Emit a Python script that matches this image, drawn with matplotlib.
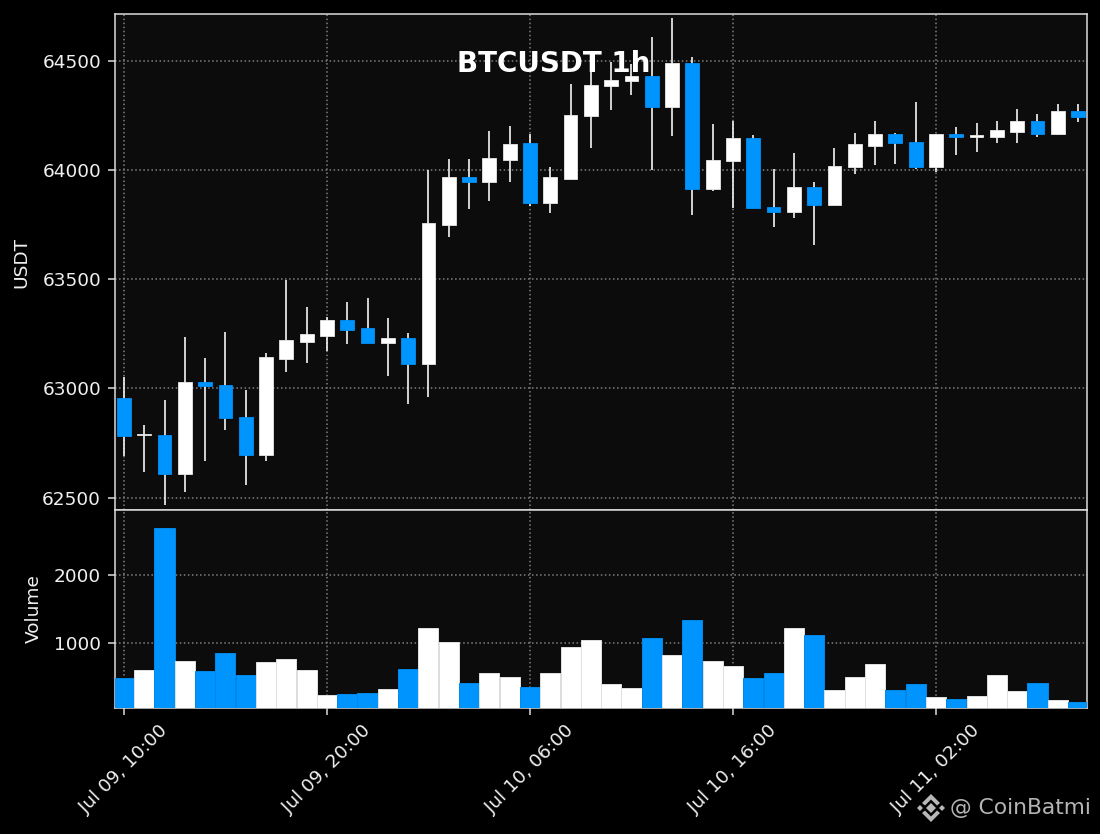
import matplotlib
matplotlib.use("Agg")
import matplotlib.pyplot as plt
from matplotlib.patches import Polygon

title = "BTCUSDT 1h"
tick_labels = ["Jul 09, 10:00", "Jul 09, 20:00", "Jul 10, 06:00", "Jul 10, 16:00", "Jul 11, 02:00"]
tick_index = [0, 10, 20, 30, 40]

opens = [62956, 62785, 62788, 62609, 63029, 63015, 62870, 62695, 63136, 63214, 63241, 63311,
         63274, 63209, 63229, 63109, 63749, 63966, 63946, 64047, 64122, 63850, 63960, 64245,
         64382, 64405, 64430, 64286, 64489, 63914, 64038, 64145, 63829, 63809, 63921, 63837,
         64011, 64111, 64163, 64127, 64011, 64163, 64151, 64148, 64175, 64223, 64162, 64269]
closes = [62782, 62790, 62609, 63029, 63011, 62864, 62695, 63142, 63220, 63247, 63311, 63268,
          63209, 63229, 63109, 63755, 63966, 63946, 64054, 64118, 63850, 63966, 64251, 64388,
          64411, 64430, 64286, 64489, 63914, 64044, 64145, 63823, 63809, 63921, 63837, 64017,
          64118, 64163, 64121, 64011, 64163, 64148, 64157, 64182, 64223, 64162, 64269, 64240]
highs = [63053, 62830, 62948, 63235, 63139, 63258, 62994, 63162, 63494, 63371, 63326, 63394,
         63412, 63321, 63253, 64000, 64050, 64050, 64177, 64200, 64165, 64014, 64394, 64490,
         64495, 64482, 64609, 64696, 64517, 64209, 64222, 64160, 64003, 64076, 63944, 64099,
         64169, 64223, 64169, 64310, 64163, 64197, 64215, 64223, 64279, 64256, 64302, 64302]
lows = [62689, 62617, 62467, 62526, 62667, 62808, 62558, 62667, 63076, 63117, 63171, 63203,
        63209, 63058, 62926, 62958, 63693, 63821, 63859, 63945, 63836, 63804, 63960, 64102,
        64275, 64344, 64000, 64156, 63795, 63901, 63824, 63823, 63736, 63780, 63658, 63837,
        63983, 64024, 64027, 64005, 63989, 64069, 64082, 64124, 64124, 64151, 64157, 64220]
volumes = [495, 608, 2690, 740, 593, 858, 535, 726, 770, 608, 240, 255,
           270, 329, 623, 1226, 1020, 417, 564, 505, 358, 564, 946, 1049,
           402, 343, 1079, 829, 1343, 740, 667, 490, 564, 1226, 1123, 314,
           505, 696, 314, 402, 211, 182, 226, 535, 299, 417, 167, 137]

UP = "#ffffff"
DOWN = "#0094ff"
FG = "#dcdcdc"
TXT = "#f0f0f0"
GRID = "#808080"
PANEL = "#0c0c0c"
FS = 13.3

W, H = 1100, 834
fig = plt.figure(figsize=(11, 8.34), dpi=100, facecolor="black")
L, R, T, M, B = 115 / W, 1087 / W, 1 - 14 / H, 1 - 510 / H, 1 - 708 / H
ax = fig.add_axes([L, M, R - L, T - M], facecolor=PANEL)
axv = fig.add_axes([L, B, R - L, M - B], facecolor=PANEL, sharex=ax)

xs = list(range(len(opens)))
colors = [UP if c >= o else DOWN for o, c in zip(opens, closes)]

for a in (ax, axv):
    a.grid(True, color=GRID, linestyle=":", linewidth=1.1, zorder=0)
    a.set_axisbelow(True)
    for s in a.spines.values():
        s.set_color(FG)
        s.set_linewidth(1.1)
    a.tick_params(colors=FG, labelcolor=TXT, labelsize=FS, length=5, width=1.1, pad=5)

ax.vlines(xs, lows, highs, colors="#f5f5f5", linewidth=1.2, zorder=2)
ax.bar(xs, [abs(c - o) for o, c in zip(opens, closes)],
       bottom=[min(o, c) for o, c in zip(opens, closes)],
       width=0.68, color=colors, edgecolor=[("#e8e8e8" if k == UP else "#0090f8") for k in colors],
       linewidth=0.6, zorder=3)
ax.set_ylim(62443, 64713)
ax.set_xlim(-0.44, 47.44)
ax.set_yticks([62500, 63000, 63500, 64000, 64500])
ax.set_ylabel("USDT", color=TXT, fontsize=FS)
ax.yaxis.set_label_coords((30 - 115) / 972, 0.5)
ax.tick_params(axis="x", bottom=False, labelbottom=False)
ax.text(0.4517, 0.8995, title, transform=ax.transAxes, ha="center", va="center",
        color="white", fontsize=20, fontweight="bold", zorder=5)

axv.bar(xs, volumes, width=0.99, color=colors,
        edgecolor=[("#e0e0e0" if k == UP else "#0088e8") for k in colors], linewidth=0.7, zorder=3)
axv.set_ylim(49, 2956)
axv.set_yticks([1000, 2000])
axv.set_ylabel("Volume", color=TXT, fontsize=FS)
axv.yaxis.set_label_coords((43 - 115) / 972, 0.5)
axv.set_xticks(tick_index)
axv.set_xticklabels(tick_labels, rotation=45, ha="center", color=TXT, fontsize=FS)

# Watermark
fig.text(950 / W, 1 - 808 / H, "@ CoinBatmi", color="#b4b4b4", fontsize=15.7, ha="left", va="center")
wm = "#b8b8b8"
cx, cy = 931, 808
def diamond(x, y, r):
    return [((x - r) / W, 1 - y / H), (x / W, 1 - (y - r) / H), ((x + r) / W, 1 - y / H), (x / W, 1 - (y + r) / H)]
for dx, r in [(0, 5), (-11, 3), (11, 3)]:
    fig.add_artist(Polygon(diamond(cx + dx, cy, r), closed=True, transform=fig.transFigure,
                           facecolor=wm, edgecolor="none"))
for sy in (-1, 1):
    pts = [(cx - 9, cy + sy * 5), (cx, cy + sy * 14), (cx + 9, cy + sy * 5),
           (cx + 6, cy + sy * 2.5), (cx, cy + sy * 8.5), (cx - 6, cy + sy * 2.5)]
    fig.add_artist(Polygon([(px / W, 1 - py / H) for px, py in pts], closed=True, transform=fig.transFigure,
                           facecolor=wm, edgecolor="none"))

fig.savefig("out.png", dpi=100, facecolor=fig.get_facecolor())
